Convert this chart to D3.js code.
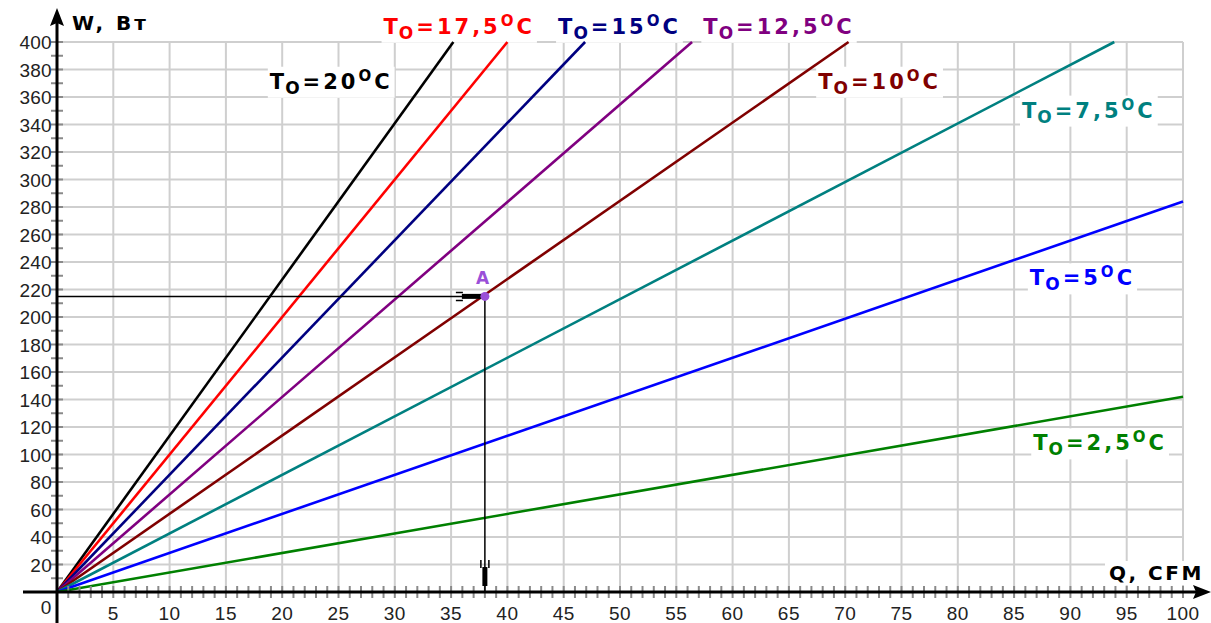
<!DOCTYPE html>
<html>
<head>
<meta charset="utf-8">
<script src="https://cdn.jsdelivr.net/npm/d3@7"></script>
<style>
  html, body { margin: 0; padding: 0; background: #fff; }
  svg { display: block; }
</style>
</head>
<body>
<svg id="chart" width="1211" height="623"></svg>
<script>
// Heat removed W (Вт) versus airflow Q (CFM) for several temperature differences T0.
const temps      = ["20", "17,5", "15", "12,5", "10", "7,5", "5", "2,5"];
const lineColors = ["#000000", "#ff0000", "#000080", "#800080", "#800000", "#008080", "#0000ff", "#008000"];
// Each line starts at the origin and ends where it leaves the plot area.
const endQ = [35.2, 40.0, 46.9, 56.4, 70.3, 93.9, 100, 100];
const endW = [400, 400, 400, 400, 400, 400, 284, 142];

const xTicks = d3.range(5, 101, 5);
const yTicks = d3.range(20, 401, 20);

// Operating point A
const pointQ = 38;
const pointW = 215;

const svg = d3.select("#chart");
const x = d3.scaleLinear().domain([0, 100]).range([57, 1183]);
const y = d3.scaleLinear().domain([0, 400]).range([592, 42]);

// Layers, bottom to top
const gridLayer  = svg.append("g");
const bgLayer    = svg.append("g");
const lineLayer  = svg.append("g");
const axisLayer  = svg.append("g");
const annLayer   = svg.append("g");
const textLayer  = svg.append("g");

const labelFont = "DejaVu Sans, Verdana, sans-serif";
const tickFont  = "Liberation Sans, Arial, sans-serif";

// Grid
gridLayer.attr("stroke", "#cfcfcf").attr("stroke-width", 2);
gridLayer.selectAll("line.v").data(xTicks).join("line").attr("class", "v")
  .attr("x1", d => x(d)).attr("x2", d => x(d))
  .attr("y1", y(0)).attr("y2", y(400));
gridLayer.selectAll("line.h").data(yTicks).join("line").attr("class", "h")
  .attr("x1", x(0)).attr("x2", x(100))
  .attr("y1", d => y(d)).attr("y2", d => y(d));

function backing(textSel, pad) {
  const b = textSel.node().getBBox();
  bgLayer.append("rect")
    .attr("x", b.x - pad).attr("y", b.y)
    .attr("width", b.width + 2 * pad).attr("height", b.height)
    .attr("fill", "#fff");
}

// Curve labels (anchored in data coordinates)
const labelPos = [
  [18.9, 366], [29.0, 406], [44.5, 406], [57.4, 406],
  [67.6, 366], [85.7, 345], [86.4, 223], [86.7, 103]
];

function tLabel(px, py, value, color) {
  const t = textLayer.append("text")
    .attr("x", px).attr("y", py)
    .attr("fill", color)
    .attr("font-family", labelFont)
    .attr("font-weight", "bold")
    .attr("font-size", 21)
    .attr("letter-spacing", 3);
  t.append("tspan").text("T");
  t.append("tspan").attr("dy", 5).attr("font-size", 17).attr("dx", -2).text("O");
  t.append("tspan").attr("dy", -5).text("=" + value);
  t.append("tspan").attr("dy", -8).attr("font-size", 15).text("O");
  t.append("tspan").attr("dy", 8).text("C");
  return t;
}

temps.forEach((tv, i) => {
  const t = tLabel(x(labelPos[i][0]), y(labelPos[i][1]), tv, lineColors[i]);
  backing(t, 2);
});

// Lines
const lineGen = d3.line().x(d => x(d[0])).y(d => y(d[1]));
temps.forEach((tv, i) => {
  lineLayer.append("path")
    .datum([[0, 0], [endQ[i], endW[i]]])
    .attr("d", lineGen)
    .attr("fill", "none")
    .attr("stroke", lineColors[i])
    .attr("stroke-width", 2.6);
});

// Axes: minor ticks
axisLayer.selectAll("line.xt").data(d3.range(1, 101)).join("line").attr("class", "xt")
  .attr("x1", d => x(d)).attr("x2", d => x(d))
  .attr("y1", y(0) - 6).attr("y2", y(0) + 6)
  .attr("stroke", "#8a8a8a").attr("stroke-width", 2);
axisLayer.selectAll("line.yt").data(d3.range(10, 401, 10)).join("line").attr("class", "yt")
  .attr("x1", x(0) - 6).attr("x2", x(0) + 6)
  .attr("y1", d => y(d)).attr("y2", d => y(d))
  .attr("stroke", "#8a8a8a").attr("stroke-width", 2);

// Axis lines with arrows
axisLayer.append("line").attr("x1", 23).attr("x2", 1198)
  .attr("y1", y(0)).attr("y2", y(0)).attr("stroke", "#000").attr("stroke-width", 3);
axisLayer.append("line").attr("x1", x(0)).attr("x2", x(0))
  .attr("y1", 623).attr("y2", 20).attr("stroke", "#000").attr("stroke-width", 3);
axisLayer.append("path")
  .attr("d", `M1211,${y(0)} L1193,${y(0) - 7} L1196,${y(0)} L1193,${y(0) + 7} Z`)
  .attr("fill", "#000");
axisLayer.append("path")
  .attr("d", `M${x(0)},8 L${x(0) - 7},26 L${x(0)},23 L${x(0) + 7},26 Z`)
  .attr("fill", "#000");

// Tick labels
textLayer.selectAll("text.xl").data(xTicks).join("text").attr("class", "xl")
  .attr("x", d => x(d)).attr("y", 620)
  .attr("text-anchor", "middle")
  .attr("font-family", tickFont).attr("font-size", 19)
  .attr("letter-spacing", 0.5)
  .attr("fill", "#222")
  .text(d => d);
textLayer.selectAll("text.yl").data(yTicks).join("text").attr("class", "yl")
  .attr("x", 52).attr("y", d => y(d) + 7)
  .attr("text-anchor", "end")
  .attr("font-family", tickFont).attr("font-size", 19)
  .attr("letter-spacing", 0.3)
  .attr("fill", "#222")
  .text(d => d);
textLayer.append("text").attr("x", 46).attr("y", 614)
  .attr("text-anchor", "middle")
  .attr("font-family", tickFont).attr("font-size", 19).attr("fill", "#222")
  .text("0");

// Axis titles
textLayer.append("text").attr("x", 72).attr("y", 30)
  .attr("font-family", labelFont)
  .attr("font-weight", "bold").attr("font-size", 20)
  .attr("letter-spacing", 3)
  .text("W, Вт");
const qTitle = textLayer.append("text").attr("x", 1109).attr("y", 580)
  .attr("font-family", labelFont)
  .attr("font-weight", "bold").attr("font-size", 20)
  .attr("letter-spacing", 2.5)
  .text("Q, CFM");
backing(qTitle, 4);

// Leader arrows from the axes to point A
const px = x(pointQ), py = y(pointW);
annLayer.attr("stroke", "#000");
annLayer.append("line").attr("x1", x(0)).attr("x2", px).attr("y1", py).attr("y2", py).attr("stroke-width", 1.5);
annLayer.append("line").attr("x1", px).attr("x2", px).attr("y1", py).attr("y2", y(0)).attr("stroke-width", 1.5);
// horizontal arrow head
annLayer.append("line").attr("x1", px - 23).attr("x2", px - 3).attr("y1", py).attr("y2", py).attr("stroke-width", 5);
annLayer.append("path").attr("fill", "none").attr("stroke-width", 1.5)
  .attr("d", `M${px - 29},${py - 4} L${px - 22},${py - 4} M${px - 29},${py + 4} L${px - 22},${py + 4}`);
// vertical arrow head
annLayer.append("line").attr("x1", px).attr("x2", px).attr("y1", y(0) - 25).attr("y2", y(0) - 6).attr("stroke-width", 5);
annLayer.append("path").attr("fill", "none").attr("stroke-width", 1.5)
  .attr("d", `M${px - 4},${y(0) - 32} L${px - 4},${y(0) - 24} M${px + 4},${y(0) - 32} L${px + 4},${y(0) - 24}`);

annLayer.append("circle").attr("cx", px).attr("cy", py).attr("r", 4.5)
  .attr("fill", "#9a50d8").attr("stroke", "none");
textLayer.append("text").attr("x", px - 9).attr("y", py - 12)
  .attr("font-family", labelFont)
  .attr("font-weight", "bold").attr("font-size", 17)
  .attr("fill", "#9a50d8")
  .text("A");
</script>
</body>
</html>
